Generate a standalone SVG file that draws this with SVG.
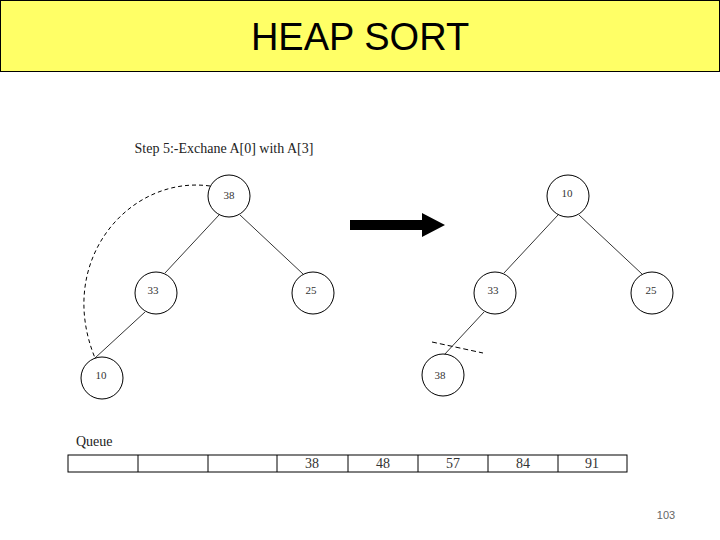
<svg xmlns="http://www.w3.org/2000/svg" width="720" height="540" viewBox="0 0 720 540">
<style>
.n{fill:#fff;stroke:#000;stroke-width:1}
.t{font-family:"Liberation Serif",serif;font-size:11px;fill:#333;text-anchor:middle}
.e{stroke:#000;stroke-width:0.8;fill:none}
.q{font-family:"Liberation Serif",serif;font-size:14px;fill:#333;text-anchor:middle}
</style>
<rect width="720" height="540" fill="#fff"/>
<rect x="0.5" y="0.5" width="719" height="71" fill="#ffff66" stroke="#000"/>
<text x="360" y="50" font-family="Liberation Sans,sans-serif" font-size="38" text-anchor="middle">HEAP SORT</text>
<text x="224" y="153" font-family="Liberation Serif,serif" font-size="14" text-anchor="middle" fill="#222">Step 5:-Exchane A[0] with A[3]</text>
<g id="connectors">
<line class="e" x1="219" y1="215" x2="165" y2="273"/>
<line class="e" x1="240" y1="215" x2="303" y2="274"/>
<line class="e" x1="145" y1="312" x2="95" y2="358"/>
<path d="M210,186 C130,175 55,260 95,358" fill="none" stroke="#000" stroke-width="1" stroke-dasharray="4,3"/>
<line class="e" x1="558" y1="215" x2="504" y2="273"/>
<line class="e" x1="579" y1="215" x2="642" y2="274"/>
<line class="e" x1="484" y1="312" x2="444" y2="355"/>
<line x1="432" y1="342" x2="483" y2="353" stroke="#000" stroke-width="1" stroke-dasharray="5,3"/>
<path d="M350,220 H422 V213 L445,225 L422,237 V230 H350 Z" fill="#000"/>
</g>
<g id="n38a"><circle class="n" cx="229" cy="196" r="21"/><text class="t" x="229" y="199">38</text></g>
<g id="n33a"><circle class="n" cx="156" cy="293" r="21"/><text class="t" x="153" y="294">33</text></g>
<g id="n25a"><circle class="n" cx="313" cy="293" r="21"/><text class="t" x="311" y="294">25</text></g>
<g id="n10a"><circle class="n" cx="102" cy="378" r="21"/><text class="t" x="101" y="379">10</text></g>
<g id="n10b"><circle class="n" cx="568" cy="196" r="21"/><text class="t" x="567" y="197">10</text></g>
<g id="n33b"><circle class="n" cx="495" cy="293" r="21"/><text class="t" x="493" y="294">33</text></g>
<g id="n25b"><circle class="n" cx="652" cy="293" r="21"/><text class="t" x="651" y="294">25</text></g>
<g id="n38b"><circle class="n" cx="443" cy="375" r="21"/><text class="t" x="440" y="379">38</text></g>
<g id="queue">
<text x="76" y="446" font-family="Liberation Serif,serif" font-size="14" fill="#222">Queue</text>
<rect x="68" y="455" width="559" height="17" fill="none" stroke="#000"/>
<path d="M138,455V472M208,455V472M277,455V472M348,455V472M418,455V472M488,455V472M558,455V472" stroke="#000"/>
<text class="q" x="312" y="468">38</text>
<text class="q" x="383" y="468">48</text>
<text class="q" x="453" y="468">57</text>
<text class="q" x="523" y="468">84</text>
<text class="q" x="592" y="468">91</text>
</g>
<text x="666" y="519" font-family="Liberation Sans,sans-serif" font-size="11" fill="#666" text-anchor="middle">103</text>
</svg>
